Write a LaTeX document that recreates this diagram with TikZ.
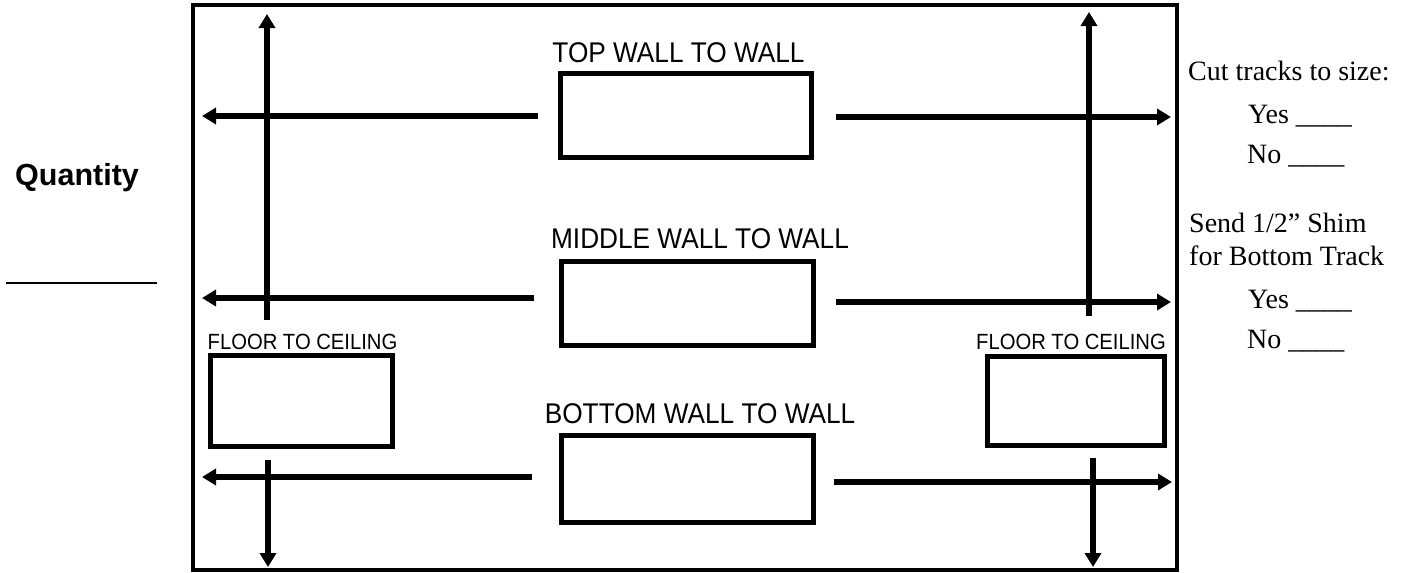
\documentclass[tikz,border=0pt]{standalone}
\usepackage{fontspec}
\setmainfont{Liberation Serif}
\newfontfamily\hsans{Liberation Sans}
\newfontfamily\hcond[FakeStretch=0.92]{Liberation Sans}
\usetikzlibrary{arrows.meta}
\begin{document}
\begin{tikzpicture}[x=1pt,y=-1pt,
  frame/.style={line width=4.2pt},
  wbox/.style={draw,line width=5pt,rectangle,inner sep=0pt},
  arr/.style={line width=5.5pt,-{Triangle[length=14pt,width=16pt]}},
  lab/.style={inner sep=0pt,anchor=base,font=\hcond\fontsize{28.5}{32}\selectfont},
  flab/.style={inner sep=0pt,anchor=base,font=\hcond\fontsize{22}{26}\selectfont},
  rtxt/.style={inner sep=0pt,anchor=base west,font=\fontsize{28}{32}\selectfont}]
\useasboundingbox (0,0) rectangle (1409,573);
\fill[white] (0,0) rectangle (1409,573);
% frame
\draw[frame] (193,5) rectangle (1177,570);
% boxes
\node[wbox,minimum width=251pt,minimum height=84pt] (topbox) at (685.5,115) {};
\node[wbox,minimum width=252pt,minimum height=84pt] (midbox) at (687,303) {};
\node[wbox,minimum width=252pt,minimum height=87pt] (botbox) at (687,478.5) {};
\node[wbox,minimum width=182pt,minimum height=91pt] (lfbox) at (301,400.5) {};
\node[wbox,minimum width=177pt,minimum height=89pt] (rfbox) at (1075.5,400.5) {};
% labels
\node[lab] (toplab) at (678.5,62) {TOP WALL TO WALL};
\node[lab] (midlab) at (700,248) {MIDDLE WALL TO WALL};
\node[lab] (botlab) at (700,423) {BOTTOM WALL TO WALL};
\node[flab] (lflab) at (302.5,349) {FLOOR TO CEILING};
\node[flab] (rflab) at (1071,349) {FLOOR TO CEILING};
% coordinates for arrows
\coordinate (t1a) at (538,116); \coordinate (t1b) at (202,116);
\coordinate (t2a) at (836,117); \coordinate (t2b) at (1171,117);
\coordinate (m1a) at (534,298); \coordinate (m1b) at (202,298);
\coordinate (m2a) at (836,302); \coordinate (m2b) at (1171,302);
\coordinate (b1a) at (532,477); \coordinate (b1b) at (202,477);
\coordinate (b2a) at (834,482); \coordinate (b2b) at (1172,482);
\coordinate (v1a) at (267,320); \coordinate (v1b) at (267,14);
\coordinate (v2a) at (1089,316); \coordinate (v2b) at (1089,12);
\coordinate (v3a) at (268,460); \coordinate (v3b) at (268,567);
\coordinate (v4a) at (1093,458); \coordinate (v4b) at (1093,567);
\draw[arr] (t1a) -- (t1b);
\draw[arr] (t2a) -- (t2b);
\draw[arr] (m1a) -- (m1b);
\draw[arr] (m2a) -- (m2b);
\draw[arr] (b1a) -- (b1b);
\draw[arr] (b2a) -- (b2b);
\draw[arr] (v1a) -- (v1b);
\draw[arr] (v2a) -- (v2b);
\draw[arr] (v3a) -- (v3b);
\draw[arr] (v4a) -- (v4b);
% quantity
\node[inner sep=0pt,anchor=base west,font=\hsans\bfseries\fontsize{30.5}{34}\selectfont] (qty) at (15,185) {Quantity};
\coordinate (qa) at (6,283); \coordinate (qb) at (157,283);
\draw[line width=2.2pt] (qa) -- (qb);
% right text
\node[rtxt] (cut) at (1188,80) {Cut tracks to size:};
\node[rtxt] (yes1) at (1248,123) {Yes \_\_\_\_};
\node[rtxt] (no1) at (1247,163) {No \_\_\_\_};
\node[rtxt] (send) at (1189,232) {Send 1/2” Shim};
\node[rtxt] (forb) at (1189,265) {for Bottom Track};
\node[rtxt] (yes2) at (1248,308) {Yes \_\_\_\_};
\node[rtxt] (no2) at (1247,348) {No \_\_\_\_};
\end{tikzpicture}
\end{document}
